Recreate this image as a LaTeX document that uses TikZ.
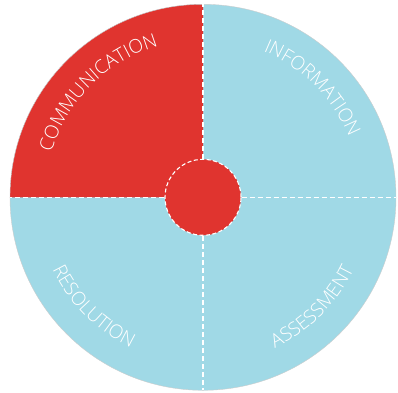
\documentclass[tikz,border=0pt]{standalone}
\usepackage{fontspec}
\newfontfamily\lblfont{Open Sans Light}
\usetikzlibrary{decorations.text}
\definecolor{quadred}{HTML}{E0342F}
\definecolor{quadblue}{HTML}{A0D9E6}
\begin{document}
\begin{tikzpicture}[x=1pt, y=1pt, line join=round, line cap=butt]
	\def\R{193}
	\def\r{38}
	\def\rin{158}
	\def\rout{167}
	\tikzset{
		divider/.style={white, line width=1.1pt, dash pattern=on 5pt off 3pt},
		hub/.style={circle, fill=quadred, draw=white, line width=1.1pt, dash pattern=on 4pt off 2.5pt, minimum size={2*\r}, inner sep=0pt},
		arclabel/.style={decorate, decoration={text along path, text align=center, text color=white,
				text={|\lblfont\fontsize{19}{19}\selectfont|#1}}}
	}
	\useasboundingbox (-203,-194.7) rectangle (195,197.3);
	\fill[quadblue] (0,0) circle[radius=\R];
	\fill[quadred] (0,0) -- (180:\R) arc[start angle=180, end angle=90, radius=\R] -- cycle;
	\draw[gray!40, line width=.4pt] (0,0) circle[radius=\R];
	\coordinate (top) at (90:\R);
	\coordinate (bottom) at (270:\R);
	\coordinate (left) at (180:\R);
	\coordinate (right) at (0:\R);
	\node[hub] (hub) at (0,0) {};
	\draw[divider] (hub.north) -- (top);
	\draw[divider] (hub.south) -- (bottom);
	\draw[divider] (hub.west) -- (left);
	\draw[divider] (hub.east) -- (right);
	\path[arclabel=COMMUNICATION] (180:\rin) arc[start angle=180, end angle=90, radius=\rin];
	\path[arclabel=INFORMATION] (90:\rin) arc[start angle=90, end angle=0, radius=\rin];
	\path[arclabel=RESOLUTION] (180:\rout) arc[start angle=180, end angle=270, radius=\rout];
	\path[arclabel=ASSESSMENT] (270:\rout) arc[start angle=270, end angle=360, radius=\rout];
\end{tikzpicture}
\end{document}
